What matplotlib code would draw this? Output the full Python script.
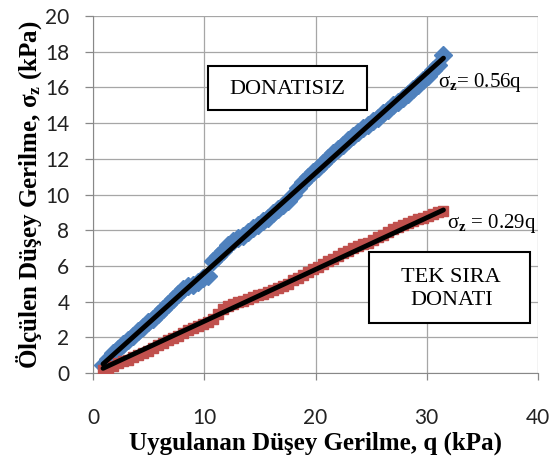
import matplotlib.pyplot as plt
from matplotlib.patches import Rectangle

plt.rcParams["mathtext.fontset"] = "custom"
plt.rcParams["mathtext.rm"] = "Liberation Serif"
plt.rcParams["mathtext.it"] = "Liberation Serif:italic"
plt.rcParams["mathtext.bf"] = "Liberation Serif:bold"

# applied stress q (kPa), same load steps for both tests
q = [0.9, 1.35, 1.8, 2.25, 2.7, 3.15, 3.6, 4.05, 4.5, 4.95, 5.4, 5.85, 6.3,
     6.75, 7.2, 7.65, 8.1, 8.55, 9.0, 9.45, 9.9, 10.35, 10.8, 11.25, 11.7,
     12.15, 12.6, 13.05, 13.5, 13.95, 14.4, 14.85, 15.3, 15.75, 16.2, 16.65,
     17.1, 17.55, 18.0, 18.45, 18.9, 19.35, 19.8, 20.25, 20.7, 21.15, 21.6,
     22.05, 22.5, 22.95, 23.4, 23.85, 24.3, 24.75, 25.2, 25.65, 26.1, 26.55,
     27.0, 27.45, 27.9, 28.35, 28.8, 29.25, 29.7, 30.15, 30.6, 31.05, 31.5]

# measured vertical stress sigma_z (kPa), unreinforced
s_unreinforced = [0.45, 0.80, 1.10, 1.35, 1.60, 1.85, 2.10, 2.35, 2.60, 2.85,
                  3.05, 3.30, 3.60, 3.85, 4.15, 4.45, 4.70, 4.85, 4.95, 5.10,
                  5.30, 5.45, 6.25, 6.55, 6.85, 7.15, 7.40, 7.55, 7.70, 7.90,
                  8.10, 8.30, 8.50, 8.70, 8.95, 9.20, 9.40, 9.65, 10.00,
                  10.35, 10.70, 11.00, 11.25, 11.50, 11.75, 12.05, 12.30,
                  12.55, 12.80, 13.05, 13.30, 13.50, 13.70, 13.90, 14.10,
                  14.30, 14.55, 14.75, 15.00, 15.20, 15.40, 15.65, 15.90,
                  16.15, 16.40, 16.65, 16.95, 17.25, 17.80]

# measured vertical stress sigma_z (kPa), single row of reinforcement
s_single = [0.15, 0.25, 0.40, 0.55, 0.65, 0.75, 0.90, 1.00, 1.10, 1.25, 1.40,
            1.55, 1.70, 1.85, 1.95, 2.10, 2.25, 2.40, 2.50, 2.65, 2.75, 2.85,
            3.00, 3.30, 3.60, 3.75, 3.85, 3.95, 4.05, 4.15, 4.25, 4.35, 4.45,
            4.55, 4.65, 4.75, 4.85, 5.00, 5.20, 5.35, 5.50, 5.65, 5.80, 5.95,
            6.10, 6.25, 6.40, 6.55, 6.70, 6.85, 7.00, 7.10, 7.20, 7.30, 7.45,
            7.60, 7.75, 7.90, 8.05, 8.20, 8.30, 8.40, 8.50, 8.60, 8.70, 8.80,
            8.90, 9.00, 9.05]

slope_unreinforced = 0.56
slope_single = 0.29

blue = "#4F81BD"
red = "#C0504D"
serif = "Liberation Serif"

fig = plt.figure(figsize=(5.55, 4.66), dpi=100)
ax = fig.add_axes([0.1676, 0.1996, 0.8018, 0.766])

ax.plot(q, s_unreinforced, linestyle="none", marker="D", markersize=9,
        color=blue, zorder=3)
ax.plot(q, s_single, linestyle="none", marker="s", markersize=7.5,
        color=red, zorder=3)

# linear trend lines through the origin
for k in [slope_unreinforced, slope_single]:
    x0, x1 = min(q), max(q)
    ax.plot([x0, x1], [k * x0, k * x1], color="black", linewidth=3.5,
            solid_capstyle="round", zorder=4)

ax.set_xlim(0, 40)
ax.set_ylim(0, 20)
ax.set_xticks(range(0, 41, 10))
ax.set_yticks(range(0, 21, 2))
ax.grid(True, color="#A6A6A6", linewidth=0.9)
ax.set_axisbelow(True)
for side in ["top", "right"]:
    ax.spines[side].set_visible(False)
for side in ["left", "bottom"]:
    ax.spines[side].set_color("#888888")
ax.tick_params(colors="#888888", labelcolor="#222222", labelsize=15,
               direction="out", width=0.9)
ax.tick_params(axis="x", length=5, pad=20)
ax.tick_params(axis="y", length=6, pad=11)
for lab in ax.get_xticklabels() + ax.get_yticklabels():
    lab.set_fontfamily("Lato")

ax.set_xlabel("Uygulanan Düşey Gerilme, q (kPa)", fontfamily=serif,
              fontweight="bold", fontsize=18, labelpad=3)
ax.set_ylabel(r"Ölçülen Düşey Gerilme, σ$_\mathbf{z}$ (kPa)",
              fontfamily=serif, fontweight="bold", fontsize=18, labelpad=1)

# label boxes
ax.add_patch(Rectangle((10.34, 14.73), 14.29, 2.47, facecolor="white",
                       edgecolor="black", linewidth=1.5, zorder=5))
ax.text(17.45, 15.9, "DONATISIZ", fontfamily=serif, fontsize=16,
        ha="center", va="center", zorder=6)
ax.add_patch(Rectangle((24.8, 2.8), 14.48, 3.98, facecolor="white",
                       edgecolor="black", linewidth=1.5, zorder=5))
ax.text(32.2, 4.7, "TEK SIRA\nDONATI", fontfamily=serif, fontsize=16,
        ha="center", va="center", linespacing=1.25, zorder=6)

ax.text(31.0, 16.3, r"σ$_\mathbf{z}$= %.2fq" % slope_unreinforced,
        fontfamily=serif, fontsize=15, va="center", zorder=6)
ax.text(31.8, 8.4, r"σ$_\mathbf{z}$ = %.2fq" % slope_single,
        fontfamily=serif, fontsize=15, va="center", zorder=6)

plt.savefig("out.png", dpi=100)
plt.close()
